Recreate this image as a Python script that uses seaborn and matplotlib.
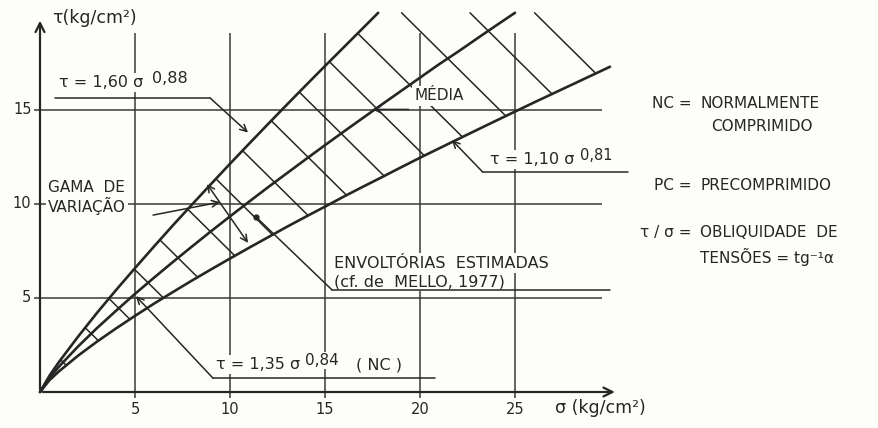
import numpy as np
import pandas as pd
import matplotlib
matplotlib.use("Agg")
import matplotlib.pyplot as plt
import seaborn as sns

# ---------------- data ----------------
sigma_upper = [0, 0.5, 1, 2, 3, 4, 5, 6, 7, 8, 9, 10, 11, 12, 13, 14, 15, 16, 17, 17.8]
tau_upper = [0, 0.87, 1.60, 2.94, 4.21, 5.42, 6.59, 7.74, 8.87, 9.97, 11.06, 12.14,
             13.20, 14.25, 15.29, 16.32, 17.34, 18.35, 19.36, 20.17]

sigma_mid = [0, 0.5, 1, 2, 3, 4, 5, 6, 7, 8, 9, 10, 11, 12, 13, 14, 15, 16, 17, 18,
             19, 20, 21, 22, 23, 24, 25]
tau_mid = [0, 0.75, 1.35, 2.42, 3.40, 4.32, 5.22, 6.08, 6.92, 7.74, 8.55, 9.34, 10.12,
           10.89, 11.64, 12.39, 13.13, 13.86, 14.58, 15.30, 16.01, 16.72, 17.43, 18.10,
           18.80, 19.49, 20.17]

sigma_low = [0, 0.5, 1, 2, 3, 4, 5, 6, 7, 8, 9, 10, 11, 12, 13, 14, 15, 16, 17, 18,
             19, 20, 22, 24, 26, 28, 30]
tau_low = [0, 0.63, 1.10, 1.93, 2.68, 3.38, 4.05, 4.70, 5.32, 5.93, 6.52, 7.10, 7.67,
           8.23, 8.79, 9.33, 9.86, 10.40, 10.92, 11.43, 11.95, 12.46, 13.45, 14.43,
           15.40, 16.35, 17.30]

curve_names = ["sup", "media", "inf"]

# hatch lines (sigma + tau = const) between the envelopes
hatch_c = [2.8, 5.8, 8.6, 11.5, 14.4, 17.5, 20.6, 23.5, 26.6, 29.6, 32.8, 35.8, 39.2, 42.8, 46.2]

grid_x = [5, 10, 15, 20, 25]
grid_y = [5, 10, 15]
xtick_labels = ["5", "10", "15", "20", "25"]
ytick_labels = ["5", "10", "15"]

# ---------------- style ----------------
sns.set_style("white")
plt.rcParams["font.family"] = ["DejaVu Sans"]
bg = "#fdfdf9"
ink = "#262626"

fig = plt.figure(figsize=(8.79, 4.28), dpi=100, facecolor=bg)
ax = fig.add_axes([0, 0, 1, 1])
ax.set_facecolor(bg)
ax.set_xlim(-40 / 19, (879 - 40) / 19)
ax.set_ylim(-(428 - 392) / 18.8, 392 / 18.8)
ax.axis("off")

# curves via seaborn
df = pd.concat([
    pd.DataFrame({"sigma": sigma_upper, "tau": tau_upper, "curve": curve_names[0]}),
    pd.DataFrame({"sigma": sigma_mid, "tau": tau_mid, "curve": curve_names[1]}),
    pd.DataFrame({"sigma": sigma_low, "tau": tau_low, "curve": curve_names[2]}),
], ignore_index=True)
sns.lineplot(data=df, x="sigma", y="tau", hue="curve", palette=[ink] * 3,
             estimator=None, sort=False, legend=False, lw=1.9, ax=ax, zorder=3)
ax.axis("off")

# grid lines
ax.vlines(grid_x, -0.3, 19.1, color="#3a3a3a", lw=1.1, zorder=1)
ax.hlines(grid_y, -0.3, 29.6, color="#3a3a3a", lw=1.1, zorder=1)

# axes with arrows
ax.annotate("", xy=(30.4, 0), xytext=(0, 0),
            arrowprops=dict(arrowstyle="->", lw=1.6, color=ink, mutation_scale=16), zorder=4)
ax.annotate("", xy=(0, 19.9), xytext=(0, 0),
            arrowprops=dict(arrowstyle="->", lw=1.6, color=ink, mutation_scale=16), zorder=4)

# hatching
xu, yu = np.asarray(sigma_upper), np.asarray(tau_upper)
xl, yl = np.asarray(sigma_low), np.asarray(tau_low)
gu, gl = xu + yu, xl + yl
top = yu[-1]
for c in hatch_c:
    if c <= gu.max():
        x1 = np.interp(c, gu, xu)
    else:
        x1 = c - top
    y1 = c - x1
    x2 = np.interp(c, gl, xl)
    y2 = c - x2
    ax.plot([x1, x2], [y1, y2], color=ink, lw=1.1, zorder=2)

# ---------------- text helpers ----------------
def label(x, y, s, fs=11.5, ha="left", va="center", box=True, **kw):
    bb = dict(facecolor=bg, edgecolor="none", pad=1.5) if box else None
    return ax.text(x, y, s, fontsize=fs, ha=ha, va=va, color=ink, zorder=6, bbox=bb, **kw)

def sup(parent, s, fs=10.5, dx=4):
    return ax.annotate(s, xy=(1, 0.78), xycoords=parent, xytext=(dx, 0),
                       textcoords="offset points", fontsize=fs, color=ink,
                       ha="left", va="center", zorder=6,
                       bbox=dict(facecolor=bg, edgecolor="none", pad=1.0))

def leader(xy_from, xy_to, arrow=True):
    ax.annotate("", xy=xy_to, xytext=xy_from,
                arrowprops=dict(arrowstyle="->" if arrow else "-", lw=1.1, color=ink,
                                mutation_scale=12, shrinkA=0, shrinkB=0), zorder=7)

def underline(x0, x1, y):
    ax.plot([x0, x1], [y, y], color=ink, lw=1.1, zorder=7)

# ticks
for v, s in zip(grid_x, xtick_labels):
    label(v, -0.95, s, fs=10.5, ha="center", box=False)
for v, s in zip(grid_y, ytick_labels):
    label(-0.45, v, s, fs=10.5, ha="right", box=False)

# axis titles
label(0.63, 19.9, "τ(kg/cm²)", fs=12.5)
label(27.1, -0.85, "σ (kg/cm²)", fs=12.5, box=False)

# upper envelope
t = label(1.0, 16.45, "τ = 1,60 σ", fs=11.5)
sup(t, "0,88", fs=11.5, dx=6)
underline(0.79, 8.95, 15.64)
leader((8.95, 15.64), (10.95, 13.8))

# range
label(0.42, 10.9, "GAMA  DE", fs=11)
label(0.42, 9.9, "VARIAÇÃO", fs=11)
leader((5.95, 9.41), (9.47, 10.1))
ax.annotate("", xy=(10.95, 7.93), xytext=(8.79, 11.06),
            arrowprops=dict(arrowstyle="<->", lw=1.1, color=ink, mutation_scale=12,
                            shrinkA=0, shrinkB=0), zorder=7)

# mean
label(19.7, 15.75, "MÉDIA", fs=11)
leader((19.4, 15.03), (17.5, 15.03))

# lower envelope
t = label(23.7, 12.35, "τ = 1,10 σ", fs=11.5)
sup(t, "0,81")
underline(23.3, 30.95, 11.7)
leader((23.3, 11.7), (21.68, 13.4))

# estimated envelopes
label(15.5, 6.86, "ENVOLTÓRIAS  ESTIMADAS", fs=11.5)
label(15.5, 5.86, "(cf. de  MELLO, 1977)", fs=11.5)
underline(15.37, 30.0, 5.43)
leader((15.37, 5.43), (11.37, 9.31), arrow=False)
ax.plot([11.37], [9.31], "o", color=ink, ms=3.5, zorder=7)

# NC mean
t = label(9.25, 1.45, "τ = 1,35 σ", fs=11.5)
s = sup(t, "0,84", fs=11)
ax.annotate("( NC )", xy=(1, 0.5), xycoords=(s, t), xytext=(12, 0),
            textcoords="offset points", fontsize=11.5, color=ink, ha="left", va="center",
            zorder=6, bbox=dict(facecolor=bg, edgecolor="none", pad=1.0))
underline(9.1, 20.8, 0.74)
leader((9.1, 0.74), (5.05, 5.1))

# notes on the right
label(34.3, 15.37, "NC =", fs=11, ha="right", box=False)
label(34.75, 15.37, "NORMALMENTE", fs=11, box=False)
label(35.3, 14.1, "COMPRIMIDO", fs=11, box=False)
label(34.3, 11.0, "PC =", fs=11, ha="right", box=False)
label(34.75, 11.0, "PRECOMPRIMIDO", fs=11, box=False)
label(34.3, 8.51, "τ / σ =", fs=11, ha="right", box=False)
label(34.75, 8.51, "OBLIQUIDADE  DE", fs=11, box=False)
label(34.75, 7.18, "TENSÕES = tg⁻¹α", fs=11, box=False)

fig.savefig("out.png", dpi=100, facecolor=bg)
